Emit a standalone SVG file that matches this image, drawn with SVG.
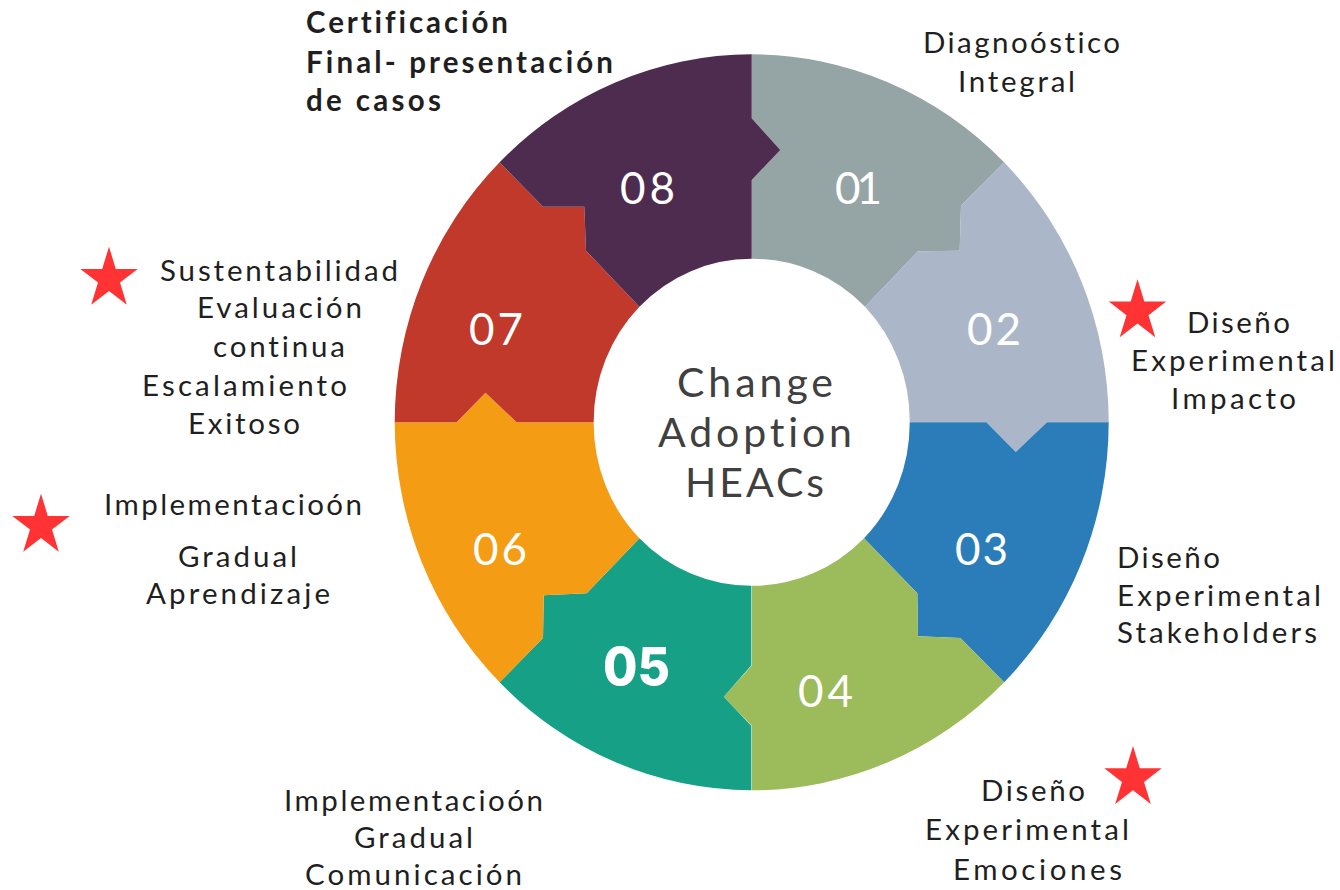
<svg xmlns="http://www.w3.org/2000/svg" xmlns:xlink="http://www.w3.org/1999/xlink" width="1340" height="890" viewBox="0 0 1340 890">
<style>
text{font-family:"Lato","Noto Sans","Liberation Sans",sans-serif;font-variant-ligatures:none;font-feature-settings:"liga" 0,"clig" 0}
.l{font-size:29.5px;fill:#1f1f1f}
.b{font-weight:700}
.n{font-size:44px;fill:#fff}
.f{font-family:"Inter","Noto Sans",sans-serif;font-size:52px;font-weight:800;fill:#fff}
.c{font-size:41px;fill:#404040}
.s{fill:#ff3333}
</style>
<defs><polygon id="star" points="0,0 6.8,22.2 28.7,22.2 11,35.9 17.8,58 0,44.3 -17.8,58 -11,35.9 -28.7,22.2 -6.8,22.2"/></defs>
<rect width="1340" height="890" fill="#fff"/>
<g id="segment-01">
<path fill="#95a5a6" d="M751.7 54.3A357 368 0 0 1 1004.1 162.3L961 205.7L959.7 250.7L918 251.3L865 306.7A158 163.5 0 0 0 751.7 258.8L751.7 180L780.3 150L751.7 118.3Z"/>
<text class="n" x="835" y="204" textLength="47">01</text>
<text class="l" x="923" y="53" textLength="197">Diagnoóstico</text>
<text class="l" x="958" y="92" textLength="117">Integral</text>
</g>
<g id="segment-02">
<path fill="#abb7c9" d="M1004.1 162.3A357 368 0 0 1 1108.7 422.3L1047 422.3L1015.8 452L986.4 422.3L909.7 422.3A158 163.5 0 0 0 865 306.7L918 251.3L959.7 250.7L961 205.7Z"/>
<text class="n" x="967" y="345" textLength="54">02</text>
<text class="l" x="1187" y="332.5" textLength="103">Diseño</text>
<text class="l" x="1131" y="371" textLength="204">Experimental</text>
<text class="l" x="1171" y="409" textLength="125">Impacto</text>
</g>
<g id="segment-03">
<path fill="#2a7db8" d="M1108.7 422.3A357 368 0 0 1 1004.1 682.3L960.4 638L918 636.3L917.3 593.3L864 538.3A158 163.5 0 0 0 909.7 422.3L986.4 422.3L1015.8 452L1047 422.3Z"/>
<text class="n" x="955" y="565" textLength="53">03</text>
<text class="l" x="1117" y="568" textLength="103">Diseño</text>
<text class="l" x="1117" y="606" textLength="204">Experimental</text>
<text class="l" x="1117" y="642.7" textLength="200">Stakeholders</text>
</g>
<g id="segment-04">
<path fill="#9cbb5a" d="M1004.1 682.3A357 368 0 0 1 752 790.3L752 726L723.8 696.7L752 665.3L752 585.8A158 163.5 0 0 0 864 538.3L917.3 593.3L918 636.3L960.4 638Z"/>
<text class="n" x="798" y="707" textLength="55">04</text>
<text class="l" x="981" y="801" textLength="104">Diseño</text>
<text class="l" x="925" y="840" textLength="204">Experimental</text>
<text class="l" x="953" y="880" textLength="169">Emociones</text>
</g>
<g id="segment-05">
<path fill="#16a085" d="M751.4 790.3A357 368 0 0 1 499.6 682.3L543 638L543.7 595.3L586.7 593.3L639.4 538.3A158 163.5 0 0 0 751.4 585.8L751.4 665.3L723.8 696.7L751.4 726Z"/>
<text class="f" x="603" y="685" textLength="67" lengthAdjust="spacingAndGlyphs">05</text>
<text class="l" x="284" y="811" textLength="259">Implementacioón</text>
<text class="l" x="354" y="848" textLength="119">Gradual</text>
<text class="l" x="305" y="885" textLength="217">Comunicación</text>
</g>
<g id="segment-06">
<path fill="#f49c14" d="M499.6 682.3A357 368 0 0 1 394.7 422.3L456.6 422.3L485.5 392.7L516.7 422.3L593.7 422.3A158 163.5 0 0 0 639.4 538.3L586.7 593.3L543.7 595.3L543 638Z"/>
<text class="n" x="473" y="565" textLength="54">06</text>
<text class="l" x="104" y="515" textLength="258">Implementacioón</text>
<text class="l" x="178" y="567" textLength="119">Gradual</text>
<text class="l" x="146" y="604" textLength="184">Aprendizaje</text>
<use href="#star" class="s" x="41" y="493.7"/>
</g>
<g id="segment-07">
<path fill="#c0392b" d="M394.7 422.3A357 368 0 0 1 499.6 162.3L543 206.7L584.3 206.7L586 250.7L639.4 306.7A158 163.5 0 0 0 593.7 422.3L516.7 422.3L485.5 392.7L456.6 422.3Z"/>
<text class="n" x="469" y="345" textLength="54">07</text>
<text class="l" x="160" y="281" textLength="238">Sustentabilidad</text>
<text class="l" x="197" y="318" textLength="165">Evaluación</text>
<text class="l" x="213" y="357" textLength="132">continua</text>
<text class="l" x="142" y="396" textLength="205">Escalamiento</text>
<text class="l" x="188" y="434" textLength="112">Exitoso</text>
<use href="#star" class="s" x="109" y="246.7"/>
</g>
<g id="segment-08">
<path fill="#4d2c4f" d="M499.6 162.3A357 368 0 0 1 751.7 54.3L751.7 118.3L780.3 150L751.7 180L751.7 258.8A158 163.5 0 0 0 639.4 306.7L586 250.7L584.3 206.7L543 206.7Z"/>
<text class="n" x="620" y="204" textLength="55">08</text>
<text class="l b" x="306" y="33" textLength="202">Certificación</text>
<text class="l b" x="306" y="73" textLength="307">Final- presentación</text>
<text class="l b" x="306" y="111" textLength="135">de casos</text>
</g>
<g id="center">
<text class="c" x="677" y="397" textLength="156">Change</text>
<text class="c" x="658" y="447" textLength="194">Adoption</text>
<text class="c" x="685" y="497" textLength="139">HEACs</text>
</g>
<g id="stars">
<use href="#star" class="s" x="1137.5" y="279.3"/>
<use href="#star" class="s" x="1133" y="746"/>
</g>
</svg>
